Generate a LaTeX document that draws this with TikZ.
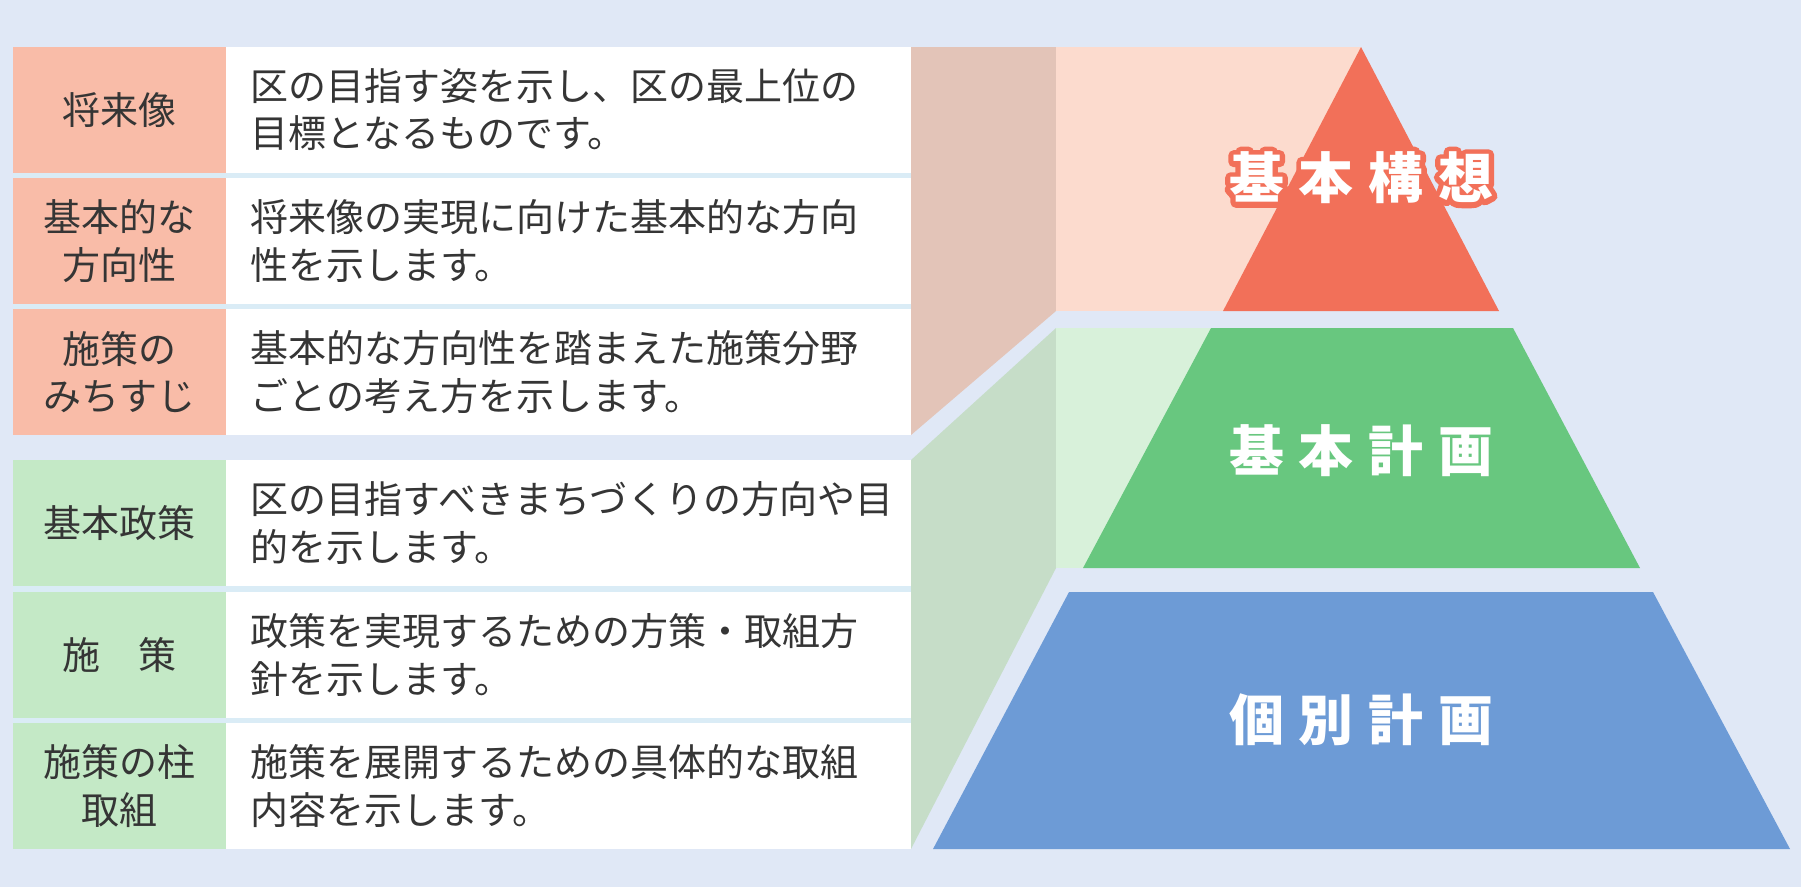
\documentclass[tikz,border=0pt]{standalone}
\usepackage{fontspec}
\setmainfont{Noto Sans CJK JP}
\definecolor{bgblue}{HTML}{E0E8F6}
\definecolor{sepblue}{HTML}{DAECF6}
\definecolor{inkgray}{HTML}{353535}
\definecolor{salmoncell}{HTML}{F9BCA8}
\definecolor{mintcell}{HTML}{C4E9C6}
\definecolor{pinkshade}{HTML}{E3C4B8}
\definecolor{pinkpanel}{HTML}{FCDBCE}
\definecolor{redtier}{HTML}{F27059}
\definecolor{greenshade}{HTML}{C6DDC8}
\definecolor{greenpanel}{HTML}{D8F1DA}
\definecolor{greentier}{HTML}{68C77F}
\definecolor{bluetier}{HTML}{6D9BD6}
\newcommand\tiergap{\hspace{0.27em}}
% stroked glyphs (fill + stroke) for the outlined title
\newcommand\redrim[1]{\special{pdf:literal direct 1 j 1 J 0.949 0.439 0.349 RG 3 w 2 Tr}#1\special{pdf:literal direct 0 Tr}}

\begin{document}
\begin{tikzpicture}[x=0.01cm, y=-0.01cm,
  cell/.style={inner sep=0pt, minimum height=1.26cm, text=inkgray,
    font=\fontsize{10.8pt}{13.4pt}\selectfont},
  lbl/.style={cell, minimum width=2.13cm, align=center},
  desc/.style={cell, fill=white, text width=6.35cm, inner xsep=0.25cm,
    align=left},
  tier/.style={inner sep=0pt, text=white,
    font=\fontsize{15.6pt}{18pt}\selectfont\bfseries}
]
  \useasboundingbox (0,0) rectangle (1801,887);
  \fill[bgblue] (0,0) rectangle (1801,887);

  % Upper table (basic concept)
  \fill[sepblue] (13,47) rectangle (911,435);
  \node[lbl, fill=salmoncell] (vision) at (119.5,110) {将来像};
  \node[desc] (visiontxt) at (568.5,110)
    {区の目指す姿を示し、区の最上位の\\目標となるものです。};
  \node[lbl, fill=salmoncell] (direction) at (119.5,241) {基本的な\\方向性};
  \node[desc] (directiontxt) at (568.5,241)
    {将来像の実現に向けた基本的な方向\\性を示します。};
  \node[lbl, fill=salmoncell] (path) at (119.5,372) {施策の\\みちすじ};
  \node[desc] (pathtxt) at (568.5,372)
    {基本的な方向性を踏まえた施策分野\\ごとの考え方を示します。};

  % Lower table (basic plan)
  \fill[sepblue] (13,460) rectangle (911,849);
  \node[lbl, fill=mintcell] (policy) at (119.5,523) {基本政策};
  \node[desc] (policytxt) at (568.5,523)
    {区の目指すべきまちづくりの方向や目\\的を示します。};
  \node[lbl, fill=mintcell] (measure) at (119.5,655) {施　策};
  \node[desc] (measuretxt) at (568.5,655)
    {政策を実現するための方策・取組方\\針を示します。};
  \node[lbl, fill=mintcell] (pillar) at (119.5,786) {施策の柱\\取組};
  \node[desc] (pillartxt) at (568.5,786)
    {施策を展開するための具体的な取組\\内容を示します。};

  % Pyramid top
  \fill[pinkshade] (911,47) -- (1056,47) -- (1056,311) -- (911,435) -- cycle;
  \fill[pinkpanel] (1056,47) rectangle (1361,311);
  \fill[redtier] (1361,47) -- (1499,311) -- (1223,311) -- cycle;

  % Pyramid middle
  \fill[greenshade] (911,460) -- (1056,328) -- (1056,568) -- (911,849) -- cycle;
  \fill[greenpanel] (1056,328) rectangle (1211,568);
  \fill[greentier] (1211,328) -- (1513,328) -- (1640,568) -- (1083,568) -- cycle;

  % Pyramid base
  \fill[bluetier] (1069,592) -- (1653,592) -- (1790,849) -- (933,849) -- cycle;

  % Tier titles
  \node[tier] (conceptrim) at (1361,178)
    {\redrim{基\tiergap 本\tiergap 構\tiergap 想}};
  \node[tier] (concept) at (conceptrim) {基\tiergap 本\tiergap 構\tiergap 想};
  \node[tier] (plan) at (1361,451) {基\tiergap 本\tiergap 計\tiergap 画};
  \node[tier] (separate) at (1361,720) {個\tiergap 別\tiergap 計\tiergap 画};
\end{tikzpicture}
\end{document}
